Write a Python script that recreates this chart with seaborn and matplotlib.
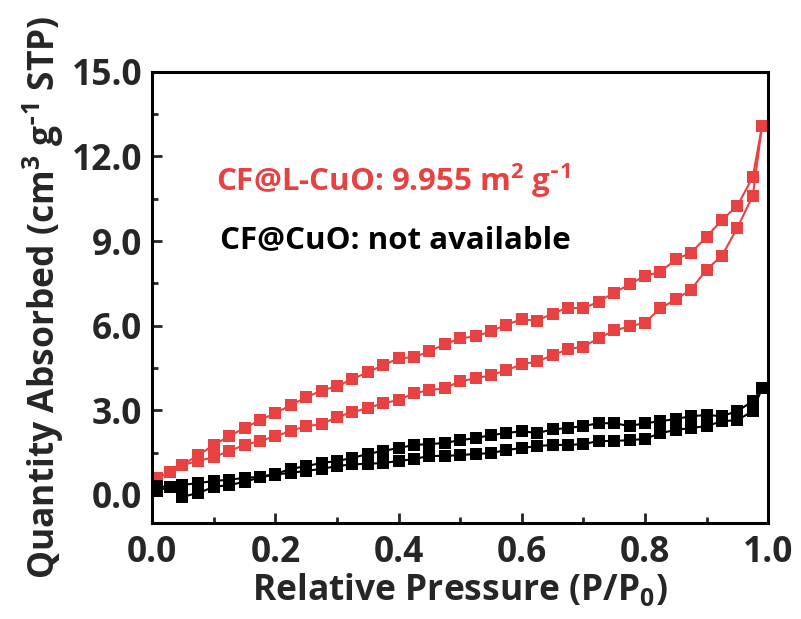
import matplotlib
matplotlib.use("Agg")
import matplotlib.pyplot as plt
from matplotlib.ticker import MultipleLocator, FormatStrFormatter
import seaborn as sns

# Relative pressure grid (P/P0)
pressure = [0.008, 0.029, 0.049, 0.075, 0.100, 0.125, 0.150, 0.175, 0.200,
            0.225, 0.250, 0.275, 0.300, 0.325, 0.350, 0.375, 0.400, 0.425,
            0.450, 0.475, 0.500, 0.525, 0.550, 0.575, 0.600, 0.625, 0.650,
            0.675, 0.700, 0.725, 0.750, 0.775, 0.800, 0.825, 0.850, 0.875,
            0.900, 0.925, 0.950, 0.975, 0.990]

# CF@L-CuO isotherm (cm3/g STP)
lcuo_desorption = [0.60, 0.81, 1.06, 1.41, 1.77, 2.08, 2.37, 2.65, 2.90,
                   3.18, 3.46, 3.70, 3.85, 4.10, 4.35, 4.60, 4.84, 4.88,
                   5.09, 5.34, 5.55, 5.62, 5.80, 6.04, 6.22, 6.18, 6.43,
                   6.64, 6.61, 6.85, 7.17, 7.46, 7.77, 7.90, 8.35, 8.59,
                   9.15, 9.75, 10.25, 11.27, 13.07]
lcuo_adsorption = [0.60, 0.81, 1.06, 1.20, 1.34, 1.55, 1.77, 1.91, 2.08,
                   2.26, 2.44, 2.50, 2.76, 2.93, 3.08, 3.25, 3.36, 3.60,
                   3.71, 3.78, 4.03, 4.13, 4.24, 4.42, 4.63, 4.73, 4.95,
                   5.16, 5.26, 5.55, 5.83, 5.97, 6.11, 6.61, 6.93, 7.28,
                   7.99, 8.48, 9.47, 10.60, 13.07]

# CF@CuO isotherm (cm3/g STP)
cuo_desorption = [0.30, 0.28, 0.35, 0.42, 0.49, 0.54, 0.60, 0.64, 0.74,
                  0.92, 1.02, 1.13, 1.20, 1.31, 1.45, 1.56, 1.66, 1.77,
                  1.80, 1.84, 1.94, 2.01, 2.12, 2.19, 2.26, 2.19, 2.32,
                  2.37, 2.44, 2.54, 2.54, 2.44, 2.54, 2.61, 2.69, 2.79,
                  2.83, 2.79, 2.97, 3.32, 3.78]
cuo_adsorption = [0.15, 0.28, -0.07, 0.07, 0.28, 0.35, 0.46, 0.62, 0.72,
                  0.78, 0.85, 0.92, 1.02, 1.08, 1.10, 1.13, 1.20, 1.27,
                  1.38, 1.38, 1.41, 1.45, 1.48, 1.59, 1.66, 1.73, 1.77,
                  1.77, 1.80, 1.91, 1.91, 1.94, 1.98, 2.19, 2.30, 2.37,
                  2.44, 2.61, 2.65, 2.97, 3.78]

RED = "#E84142"
BLACK = "#000000"

sns.set_theme(style="ticks")
plt.rcParams["font.family"] = ["Open Sans", "DejaVu Sans"]
plt.rcParams["font.weight"] = "bold"
plt.rcParams["axes.labelweight"] = "bold"
plt.rcParams["mathtext.default"] = "regular"

fig = plt.figure(figsize=(8.01, 6.19), dpi=100)
ax = fig.add_axes([0.19, 0.155, 0.769, 0.729])

for series, color in [(lcuo_desorption, RED), (lcuo_adsorption, RED),
                      (cuo_desorption, BLACK), (cuo_adsorption, BLACK)]:
    sns.lineplot(x=pressure, y=series, sort=False, ax=ax, color=color,
                 linewidth=1.5, marker="s", markersize=8,
                 markeredgewidth=0, legend=False)

ax.set_xlim(0.0, 1.0)
ax.set_ylim(-1.0, 15.0)
ax.xaxis.set_major_locator(MultipleLocator(0.2))
ax.xaxis.set_minor_locator(MultipleLocator(0.1))
ax.yaxis.set_major_locator(MultipleLocator(3.0))
ax.yaxis.set_minor_locator(MultipleLocator(1.5))
ax.xaxis.set_major_formatter(FormatStrFormatter("%.1f"))
ax.yaxis.set_major_formatter(FormatStrFormatter("%.1f"))

ax.tick_params(axis="both", which="major", direction="in", length=7,
               width=2, labelsize=25.5, top=False, right=False)
ax.tick_params(axis="x", which="major", pad=8.5)
ax.tick_params(axis="y", which="major", pad=7)
ax.tick_params(axis="both", which="minor", direction="in", length=4,
               width=2, top=False, right=False)
for lab in ax.get_xticklabels() + ax.get_yticklabels():
    lab.set_fontweight("bold")
for sp in ax.spines.values():
    sp.set_linewidth(2.2)
    sp.set_color("black")

ax.set_xlabel("Relative Pressure (P/P$_0$)", fontsize=25.5, fontweight="bold",
              labelpad=1)
ax.set_ylabel("Quantity Absorbed (cm$^3$ g$^{\\text{-}1}$ STP)", fontsize=25.5,
              fontweight="bold", labelpad=4)

ax.text(0.104, 10.78, "CF@L-CuO: 9.955 m$^2$ g$^{\\text{-}1}$", color=RED,
        fontsize=22.5, fontweight="bold", ha="left", va="baseline")
ax.text(0.110, 8.73, "CF@CuO: not available", color=BLACK,
        fontsize=22.5, fontweight="bold", ha="left", va="baseline")

fig.savefig("out.png", dpi=100)
